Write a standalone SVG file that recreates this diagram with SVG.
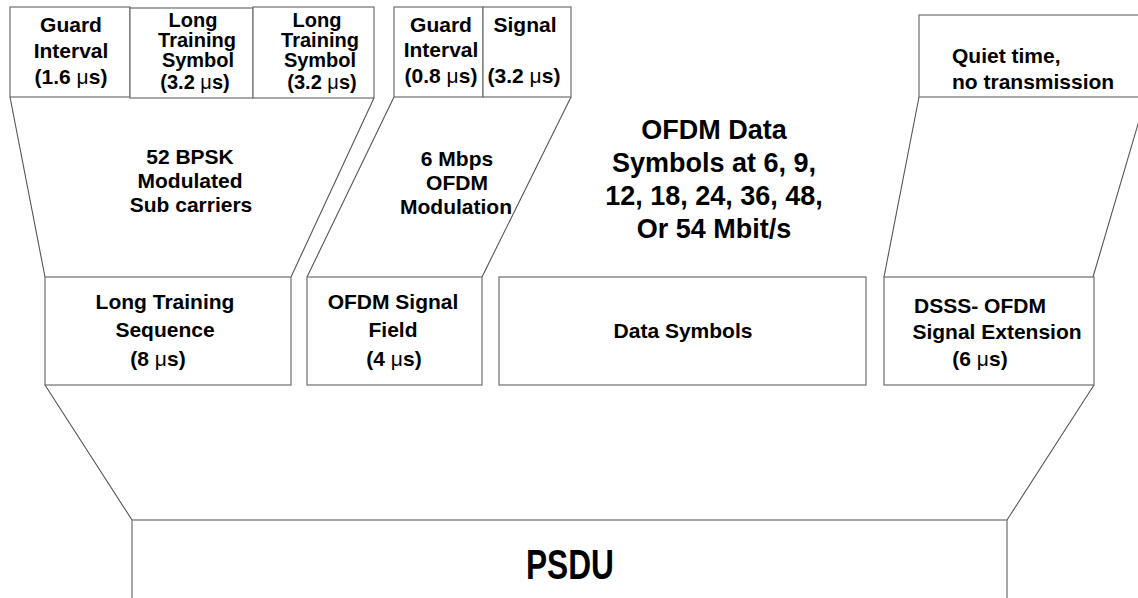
<svg xmlns="http://www.w3.org/2000/svg" width="1138" height="598" viewBox="0 0 1138 598">
<style>
.b{fill:#fff;stroke:#6e6e6e;stroke-width:1.2}
.l{fill:none;stroke:#555;stroke-width:1.1}
text{font-family:"Liberation Sans",Arial,sans-serif;font-weight:bold;fill:#000;text-anchor:middle}
.s{font-size:21px}
.t{font-size:20px}
.m{font-size:27px}
.p{font-size:42px}
.mu{font-weight:normal}
</style>
<rect width="1138" height="598" fill="#fff"/>
<g id="connectors">
<path class="l" d="M10,97 L45,277 M374,98 L291,277"/>
<path class="l" d="M394,97 L307,277 M571,97 L482,277"/>
<path class="l" d="M919,97 L884,277 M1146,97 L1093,277"/>
<path class="l" d="M45,385 L132,520 M1094,385 L1007,520"/>
</g>
<g id="gi1"><rect class="b" x="10" y="7" width="120" height="90"/>
<text class="s"><tspan x="71" y="32">Guard</tspan><tspan x="71" y="58">Interval</tspan><tspan x="71" y="84">(1.6 <tspan class="mu">μ</tspan>s)</tspan></text></g>
<g id="lts1"><rect class="b" x="130" y="8" width="123" height="90"/>
<text class="t"><tspan x="193" y="27">Long</tspan><tspan x="197" y="47">Training</tspan><tspan x="198" y="67">Symbol</tspan><tspan x="195" y="89">(3.2 <tspan class="mu">μ</tspan>s)</tspan></text></g>
<g id="lts2"><rect class="b" x="253" y="7" width="121" height="91"/>
<text class="t"><tspan x="317" y="27">Long</tspan><tspan x="320" y="47">Training</tspan><tspan x="320" y="67">Symbol</tspan><tspan x="322" y="89">(3.2 <tspan class="mu">μ</tspan>s)</tspan></text></g>
<g id="gi2"><rect class="b" x="394" y="7" width="89" height="90"/>
<text class="s"><tspan x="441" y="32">Guard</tspan><tspan x="441" y="57">Interval</tspan><tspan x="441" y="83">(0.8 <tspan class="mu">μ</tspan>s)</tspan></text></g>
<g id="sig"><rect class="b" x="483" y="7" width="88" height="90"/>
<text class="s"><tspan x="525" y="32">Signal</tspan><tspan x="524" y="83">(3.2 <tspan class="mu">μ</tspan>s)</tspan></text></g>
<g id="quiet"><rect class="b" x="919" y="15" width="240" height="82"/>
<text class="s" style="text-anchor:start"><tspan x="952" y="63">Quiet time,</tspan><tspan x="952" y="89">no transmission</tspan></text></g>
<g id="bpsk"><text class="s"><tspan x="190" y="164">52 BPSK</tspan><tspan x="190" y="188">Modulated</tspan><tspan x="191" y="212">Sub carriers</tspan></text></g>
<g id="mod"><text class="s"><tspan x="457" y="166">6 Mbps</tspan><tspan x="457" y="190">OFDM</tspan><tspan x="456" y="214">Modulation</tspan></text></g>
<g id="ofdmdata"><text class="m"><tspan x="714" y="139">OFDM Data</tspan><tspan x="714" y="172">Symbols at 6, 9,</tspan><tspan x="714" y="205">12, 18, 24, 36, 48,</tspan><tspan x="714" y="238">Or 54 Mbit/s</tspan></text></g>
<g id="ltseq"><rect class="b" x="45" y="277" width="246" height="108"/>
<text class="s"><tspan x="165" y="309">Long Training</tspan><tspan x="165" y="337">Sequence</tspan><tspan x="158" y="366">(8 <tspan class="mu">μ</tspan>s)</tspan></text></g>
<g id="sigfield"><rect class="b" x="307" y="277" width="175" height="108"/>
<text class="s"><tspan x="393" y="309">OFDM Signal</tspan><tspan x="393" y="337">Field</tspan><tspan x="394" y="366">(4 <tspan class="mu">μ</tspan>s)</tspan></text></g>
<g id="datasym"><rect class="b" x="499" y="277" width="367" height="108"/>
<text class="s" x="683" y="338">Data Symbols</text></g>
<g id="ext"><rect class="b" x="884" y="277" width="210" height="108"/>
<text class="s"><tspan x="980" y="313">DSSS-  OFDM</tspan><tspan x="997" y="339">Signal Extension</tspan><tspan x="980" y="366">(6 <tspan class="mu">μ</tspan>s)</tspan></text></g>
<g id="psdu"><rect class="b" x="132" y="520" width="875" height="100"/>
<text class="p" x="570" y="579" textLength="88" lengthAdjust="spacingAndGlyphs">PSDU</text></g>
</svg>
